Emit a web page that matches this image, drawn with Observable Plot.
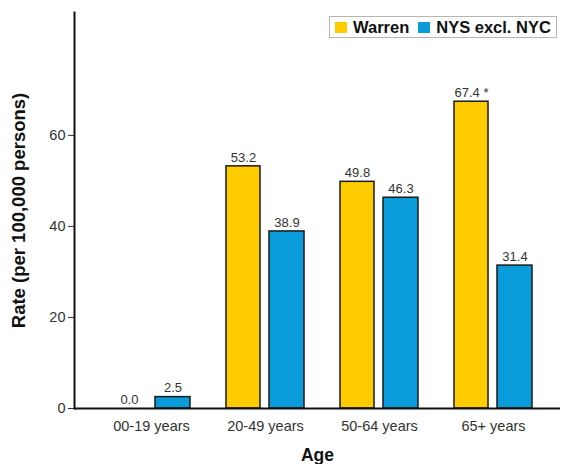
<!DOCTYPE html>
<html>
<head>
<meta charset="utf-8">
<script src="https://cdn.jsdelivr.net/npm/d3@7"></script>
<script src="https://cdn.jsdelivr.net/npm/@observablehq/plot@0.6"></script>
<style>
  html, body { margin: 0; padding: 0; background: #fff; }
  #wrap { position: relative; width: 563px; height: 464px; font-family: "Liberation Sans", Arial, sans-serif; }
  #wrap svg g[aria-label="y-axis label"] { font-size: 18.5px; font-weight: bold; fill: #111; }
  #wrap svg g[aria-label="x-axis label"] { font-size: 17.5px; font-weight: bold; fill: #111; }
  #legend { position: absolute; left: 329px; top: 16px; width: 228px; height: 22px; border: 1.5px solid #b5b5b5;
            display: flex; align-items: center; font-size: 16.5px; font-weight: bold; color: #111; box-sizing: border-box; }
  #legend .sw { width: 12px; height: 11px; display: inline-block; margin-left: 5px; margin-right: 6px; }
  #legend .item { display: flex; align-items: center; margin-right: 4px; }
</style>
</head>
<body>
<div id="wrap"></div>
<script>
const ages = ["00-19 years", "20-49 years", "50-64 years", "65+ years"];
const seriesNames = ["Warren", "NYS excl. NYC"];
const warrenValues = [0.0, 53.2, 49.8, 67.4];
const nysValues = [2.5, 38.9, 46.3, 31.4];
const warrenLabels = ["0.0", "53.2", "49.8", "67.4 *"];
const nysLabels = ["2.5", "38.9", "46.3", "31.4"];
const yTicks = [0, 20, 40, 60];
const colors = ["#FFCC00", "#0A9BDA"];

const warrenRows = ages.map((age, i) => ({age, series: seriesNames[0], value: warrenValues[i], label: warrenLabels[i]}));
const nysRows = ages.map((age, i) => ({age, series: seriesNames[1], value: nysValues[i], label: nysLabels[i]}));

const chart = Plot.plot({
  width: 563,
  height: 464,
  marginLeft: 74,
  marginRight: 3,
  marginTop: 12,
  marginBottom: 56,
  style: {fontFamily: "'Liberation Sans', Arial, sans-serif", fontSize: "14.5px", color: "#333", background: "white", overflow: "visible"},
  x: {type: "band", domain: ages, range: [74, 570.5], paddingInner: 0.319, paddingOuter: 0.3275,
      label: "Age", labelAnchor: "center", labelOffset: 52, labelArrow: "none", tickSize: 0, tickPadding: 12},
  y: {domain: [0, 87], ticks: yTicks, tickSize: 6, tickPadding: 3,
      label: "Rate (per 100,000 persons)", labelAnchor: "center", labelOffset: 63, labelArrow: "none"},
  color: {domain: seriesNames, range: colors},
  marks: [
    Plot.barY(warrenRows.filter(d => d.value > 0), {x: "age", y: "value", fill: "series", stroke: "#1a1a1a", strokeWidth: 1.5, insetRight: 44}),
    Plot.barY(nysRows.filter(d => d.value > 0), {x: "age", y: "value", fill: "series", stroke: "#1a1a1a", strokeWidth: 1.5, insetLeft: 43}),
    Plot.text(warrenRows, {x: "age", y: "value", text: "label", dx: -22, dy: -9, fontSize: 13, fill: "#333"}),
    Plot.text(nysRows, {x: "age", y: "value", text: "label", dx: 21.5, dy: -9, fontSize: 13, fill: "#333"}),
    Plot.ruleY([0], {stroke: "#111", strokeWidth: 2}),
    Plot.frame({anchor: "left", stroke: "#111", strokeWidth: 2})
  ]
});

const wrap = document.getElementById("wrap");
wrap.appendChild(chart);

const legend = document.createElement("div");
legend.id = "legend";
seriesNames.forEach((name, i) => {
  const item = document.createElement("span");
  item.className = "item";
  const sw = document.createElement("span");
  sw.className = "sw";
  sw.style.background = colors[i];
  item.appendChild(sw);
  item.appendChild(document.createTextNode(name));
  legend.appendChild(item);
});
wrap.appendChild(legend);
</script>
</body>
</html>
